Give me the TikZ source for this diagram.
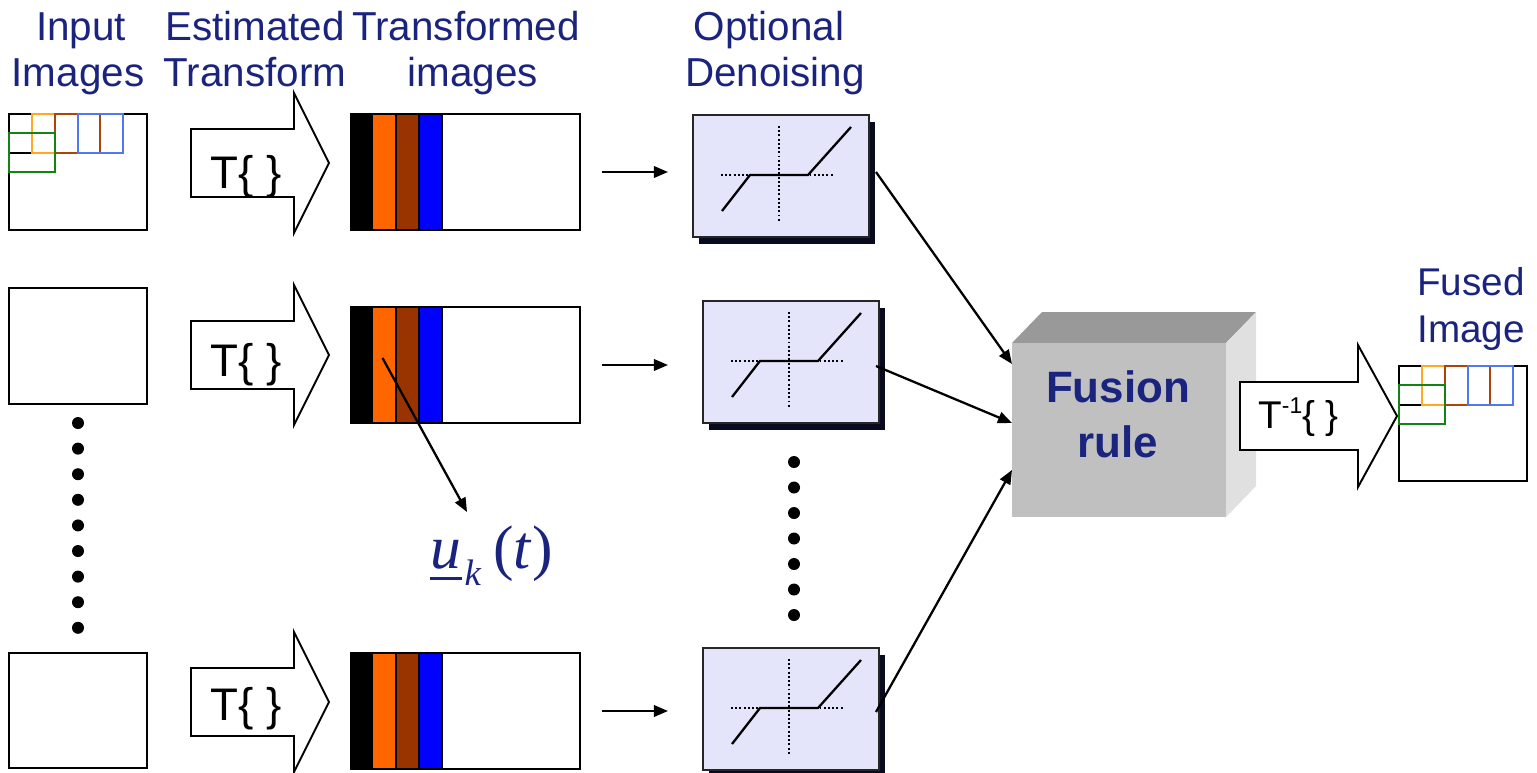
\documentclass[tikz,border=0pt]{standalone}
\usepackage{fontspec}
\setmainfont{Liberation Sans}
\newfontfamily\formulafont{Liberation Serif}
\usetikzlibrary{arrows.meta,calc,fit}

\definecolor{navy}{RGB}{26,35,126}
\definecolor{stripeorange}{RGB}{255,102,0}
\definecolor{stripebrown}{RGB}{153,51,0}
\definecolor{stripeblue}{RGB}{0,0,255}
\definecolor{tileorange}{RGB}{255,170,30}
\definecolor{tilebrown}{RGB}{170,70,10}
\definecolor{tileblue}{RGB}{80,120,240}
\definecolor{tilegreen}{RGB}{20,130,20}
\definecolor{denoisefill}{RGB}{228,228,250}
\definecolor{denoiseshadow}{RGB}{8,10,30}
\definecolor{cubefront}{RGB}{192,192,192}
\definecolor{cubetop}{RGB}{153,153,153}
\definecolor{cubeside}{RGB}{224,224,224}

\tikzset{
  frame/.style={draw=black, line width=1.1pt, inner sep=0pt, outer sep=0pt},
  imgbox/.style={frame, fill=white},
  hdr/.style={text=navy, font=\fontsize{23}{28}\selectfont, inner sep=0pt, anchor=base},
  tlabel/.style={font=\fontsize{26}{30}\selectfont, inner sep=0pt, anchor=base west},
  bigarrow/.style={draw=black, line width=1.1pt, fill=white, line join=miter},
  conn/.style={draw=black, line width=1.3pt, -{Triangle[length=8pt,width=6.5pt]}},
  tile/.style={line width=1.1pt},
  dot/.style={circle, fill=black, inner sep=0pt, minimum size=0.24cm},
  denoise/.style={frame, draw=black!85, fill=denoisefill, minimum width=3.52cm,
    minimum height=2.44cm, anchor=north west},
  axis/.style={line width=1pt, dash pattern=on 1.1pt off 1.3pt},
  curve/.style={line width=1.3pt},
  fusiontext/.style={text=navy, font=\bfseries\fontsize{25}{30}\selectfont, inner sep=0pt, anchor=base},
}

% small coloured tiles in the top-left corner of an image
\newcommand\mosaic[2]{%
  \begin{scope}[shift={(#1,#2)}]
    \draw[tile, black] (0,0) rectangle (23,39);
    \draw[tile, tileorange] (23,0) rectangle (46,39);
    \draw[tile, tilebrown] (46,0) rectangle (91,39);
    \draw[tile, tileblue] (69,0) rectangle (114,39);
    \draw[tile, tilegreen] (0,19) rectangle (46,58);
  \end{scope}}

% block arrow of the transform step
\newcommand\transformarrow[3]{%
  \begin{scope}[shift={(0,#2)}]
    \draw[bigarrow] (191,-34) -- (294,-34) -- (294,-70) -- (329,0)
      -- (294,70) -- (294,34) -- (191,34) -- cycle;
  \end{scope}
  \node[tlabel] (#1) at (210,#3) {T\{ \}};}

% transformed image: coefficient bands followed by the rest
\newcommand\transformed[2]{%
  \begin{scope}[shift={(0,#2)}]
    \fill[black] (351,0) rectangle (373,116);
    \node[inner sep=0pt, outer sep=0pt, fill=stripeorange, minimum width=0.46cm,
      minimum height=2.32cm, anchor=north west] (#1o) at (373,0) {};
    \draw[tile, fill=stripebrown] (396,0) rectangle (419,116);
    \draw[tile, fill=stripeblue] (419,0) rectangle (442,116);
    \node[frame, minimum width=4.58cm, minimum height=2.32cm, anchor=north west]
      (#1) at (351,0) {};
  \end{scope}}

% shrinkage curve panel with drop shadow
\newcommand\denoiser[3]{%
  \begin{scope}[shift={(#2,#3)}]
    \fill[denoiseshadow] (6,7) rectangle (182,129);
    \node[denoise] (#1) at (0,0) {};
    \draw[axis] (28,60) -- (140,60);
    \draw[axis] (86,11) -- (86,107);
    \draw[curve] (29,96) -- (57,60) -- (115,60) -- (158,12);
  \end{scope}}

\begin{document}
\begin{tikzpicture}[x=0.02cm, y=-0.02cm]
  \useasboundingbox (0,0) rectangle (1537,772);

  % column headings
  \node[hdr] (h1a) at (81,40) {Input};
  \node[hdr] (h1b) at (78,86) {Images};
  \node[hdr] (h2a) at (255,40) {Estimated};
  \node[hdr] (h2b) at (255,86) {Transform};
  \node[hdr] (h3a) at (466,40) {Transformed};
  \node[hdr] (h3b) at (473,86) {images};
  \node[hdr] (h4a) at (769,40) {Optional};
  \node[hdr] (h4b) at (775,86) {Denoising};
  \node[hdr, font=\fontsize{22}{26}\selectfont] (h5a) at (1471,295) {Fused};
  \node[hdr, font=\fontsize{22}{26}\selectfont] (h5b) at (1471,342) {Image};

  % input images
  \node[imgbox, fit={(9,114)(147,230)}] (in1) {};
  \mosaic{9}{114}
  \node[imgbox, fit={(9,288)(147,404)}] (in2) {};
  \node[imgbox, fit={(9,653)(147,768)}] (in3) {};
  \foreach \i in {0,...,8}
    \node[dot] (ldot\i) at (78,{423+25.6*\i}) {};

  % transform arrows
  \transformarrow{tr1}{163}{188}
  \transformarrow{tr2}{355}{376}
  \transformarrow{tr3}{702}{720}

  % transformed images
  \transformed{t1}{114}
  \transformed{t2}{307}
  \transformed{t3}{653}

  % denoising panels
  \denoiser{d1}{693}{115}
  \denoiser{d2}{703}{301}
  \denoiser{d3}{703}{648}
  \foreach \i in {0,...,6}
    \node[dot] (mdot\i) at (794,{462+25.5*\i}) {};

  \draw[conn, shorten <=0.44cm, shorten >=0.5cm] (t1.east) -- (t1.east -| d1.west);
  \draw[conn, shorten <=0.44cm, shorten >=0.7cm] (t2.east) -- (t2.east -| d2.west);
  \draw[conn, shorten <=0.44cm, shorten >=0.7cm] (t3.east) -- (t3.east -| d3.west);

  % coefficient label: underlined u, subscript k, argument t
  \node[text=navy, inner sep=0pt, anchor=base west,
    font=\formulafont\fontsize{35}{40}\selectfont] (uk) at (430,568)
    {\makebox[0pt][l]{\rule[-0.19em]{0.51em}{0.05em}}\textit{u}\kern2pt%
     \raisebox{-0.28em}{\fontsize{21}{24}\selectfont\itshape k}\kern7pt(\textit{t})};
  \coordinate (ukTip) at (467,512);
  \draw[conn] ($(t2o.center)+(-2,-7)$) -- (ukTip);

  % fusion block
  \fill[cubetop] (1012,343) -- (1042,312) -- (1256,312) -- (1226,343) -- cycle;
  \fill[cubeside] (1226,343) -- (1256,312) -- (1256,486) -- (1226,517) -- cycle;
  \node[fill=cubefront, inner sep=0pt, outer sep=0pt, minimum width=4.28cm,
    minimum height=3.48cm, anchor=north west] (fusion) at (1012,343) {};
  \node[fusiontext] (fus1) at (1118,402) {Fusion};
  \node[fusiontext] (fus2) at (1118,457) {rule};

  \draw[conn] ($(d1.east)+(7,-4)$) -- ($(fusion.west)+(0,-66)$);
  \draw[conn] ($(d2.east)+(-3,4)$) -- ($(fusion.west)+(0,-7)$);
  \draw[conn] ($(d3.east)+(-3,3)$) -- ($(fusion.west)+(0,40)$);

  % inverse transform
  \draw[bigarrow] (1240,382) -- (1358,382) -- (1358,345) -- (1397,416)
    -- (1358,487) -- (1358,450) -- (1240,450) -- cycle;
  \node[tlabel, font=\fontsize{22}{26}\selectfont] (inv) at (1258,428)
    {T\raisebox{8.2pt}{\fontsize{13}{15}\selectfont -1}\{ \}};

  % fused image
  \node[imgbox, fit={(1399,366)(1527,481)}] (fused) {};
  \mosaic{1399}{366}
\end{tikzpicture}
\end{document}
